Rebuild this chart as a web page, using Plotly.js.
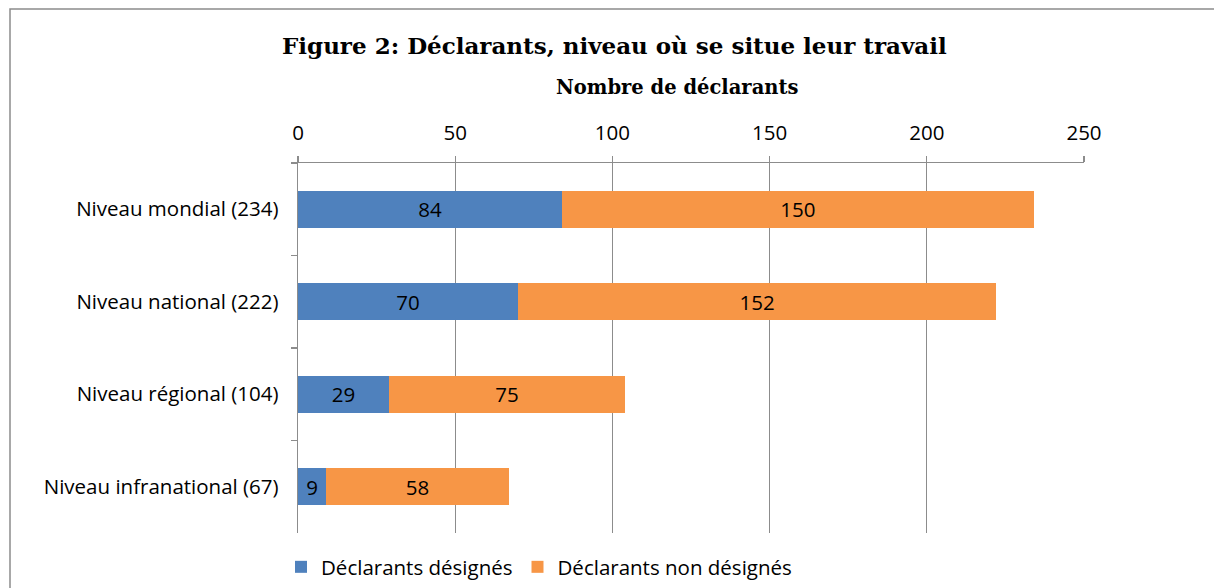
<!DOCTYPE html>
<html>
<head>
<meta charset="utf-8">
<script src="https://cdn.plot.ly/plotly-3.0.1.min.js"></script>
<style>
html,body{margin:0;padding:0;background:#fff;}
#chart{width:1214px;height:588px;}
</style>
</head>
<body>
<div id="chart"></div>
<script>
const categories = ["Niveau mondial (234)", "Niveau national (222)", "Niveau régional (104)", "Niveau infranational (67)"];
const designes = [84, 70, 29, 9];
const nonDesignes = [150, 152, 75, 58];
const seriesNames = ["Déclarants désignés", "Déclarants non désignés"];
const xTicks = [0, 50, 100, 150, 200, 250];

const tickFont = {family: "Open Sans, sans-serif", size: 20.5, color: "#000"};

const traces = [
  {
    type: "bar", orientation: "h", name: seriesNames[0],
    y: categories, x: designes,
    text: designes.map(String), textposition: "inside", insidetextanchor: "middle",
    textangle: 0, constraintext: "none",
    textfont: tickFont, insidetextfont: tickFont,
    marker: {color: "#4F81BD"}, hoverinfo: "x+y"
  },
  {
    type: "bar", orientation: "h", name: seriesNames[1],
    y: categories, x: nonDesignes,
    text: nonDesignes.map(String), textposition: "inside", insidetextanchor: "middle",
    textangle: 0, constraintext: "none",
    textfont: tickFont, insidetextfont: tickFont,
    marker: {color: "#F79646"}, hoverinfo: "x+y"
  }
];

const L = 298, R = 1084, T = 163, B = 533, W = 1214, H = 588;
const px = v => (v - L) / (R - L);
const py = v => (B - v) / (B - T);

const layout = {
  width: W, height: H,
  margin: {l: L, r: W - R, t: T, b: H - B, pad: 0, autoexpand: false},
  paper_bgcolor: "#fff", plot_bgcolor: "#fff",
  barmode: "stack", bargap: 0.6,
  showlegend: true,
  legend: {orientation: "h", x: px(281), xanchor: "left", y: py(567), yanchor: "middle",
           font: tickFont, bgcolor: "rgba(0,0,0,0)", traceorder: "normal"},
  xaxis: {
    side: "top", range: [0, 250], tickvals: xTicks, ticktext: xTicks.map(String),
    showgrid: true, gridcolor: "#8c8c8c", gridwidth: 1.3,
    showline: true, linecolor: "#8c8c8c", linewidth: 1.3,
    ticks: "outside", ticklen: 6, tickcolor: "#8c8c8c", tickwidth: 1.3,
    tickfont: tickFont, ticklabelstandoff: 8, zeroline: false, fixedrange: true
  },
  yaxis: {
    type: "category", autorange: "reversed",
    showline: true, linecolor: "#8c8c8c", linewidth: 1.3,
    ticks: "outside", ticklen: 6, tickcolor: "#8c8c8c", tickwidth: 1.3,
    tickson: "boundaries", showgrid: false,
    tickfont: tickFont, ticklabelstandoff: 14, fixedrange: true
  },
  annotations: [
    {text: "<b>Figure 2: Déclarants, niveau où se situe leur travail</b>", xref: "paper", yref: "paper",
     x: px(614), y: py(46), xanchor: "center", yanchor: "middle", showarrow: false,
     font: {family: "DejaVu Serif, serif", size: 23, color: "#000"}},
    {text: "<b>Nombre de déclarants</b>", xref: "paper", yref: "paper",
     x: px(677), y: py(87), xanchor: "center", yanchor: "middle", showarrow: false,
     font: {family: "DejaVu Serif, serif", size: 19.5, color: "#000"}}
  ],
  shapes: [
    {type: "rect", xref: "paper", yref: "paper", x0: px(10), x1: px(1230), y0: py(600), y1: py(9),
     line: {color: "#8c8c8c", width: 1.5}, fillcolor: "rgba(0,0,0,0)", layer: "below"}
  ]
};

Plotly.newPlot("chart", traces, layout, {displayModeBar: false, staticPlot: true});
</script>
</body>
</html>
